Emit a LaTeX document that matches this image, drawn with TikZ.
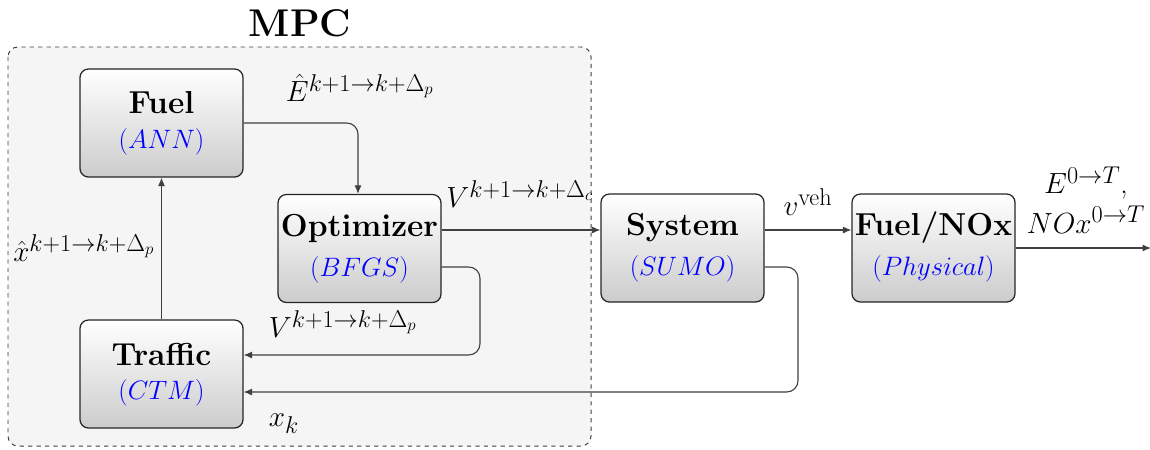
\documentclass[tikz,border=0pt]{standalone}
\usepackage{graphicx}
\usetikzlibrary{arrows.meta,calc}
\DeclareMathSizes{20.74}{20.74}{17.28}{12}
\newcommand{\subt}[1]{\scalebox{1.095}{\fontsize{17.28}{21}\selectfont$#1$}}
\begin{document}
\begin{tikzpicture}[x=0.025cm,y=-0.025cm,
  blk/.style={draw=black!85,line width=0.9pt,rounded corners=6pt,top color=white,bottom color=black!20,
    minimum width=163*0.025cm,minimum height=108*0.025cm,inner sep=0pt,align=center},
  conn/.style={draw=black!75,line width=0.8pt,rounded corners=8pt,-{Latex[length=6pt,width=5pt]}},
  ttl/.style={font=\fontsize{22.6}{26}\selectfont\bfseries},
  sub/.style={text=blue},
  lbl/.style={font=\fontsize{20.74}{25}\selectfont,inner sep=1pt}]
\useasboundingbox (0,0) rectangle (1150,449);
% MPC region
\draw[dashed,draw=black!75,line width=0.7pt,fill=black!4,rounded corners=7pt] (8,47) rectangle (591,446);
\node[font=\fontsize{27.5}{32}\selectfont\bfseries] (mpc) at (300,23) {MPC};
% blocks
\node[blk] (fuel) at (161.5,123) {};
\node[ttl] at ($(fuel)+(0,-20)$) {Fuel};
\node[sub] at ($(fuel)+(0,19)$) {\subt{(ANN)}};
\node[blk] (opt) at (359.5,248.5) {};
\node[ttl] at ($(opt)+(0,-20)$) {Optimizer};
\node[sub] at ($(opt)+(0,21)$) {\subt{(BFGS)}};
\node[blk] (traf) at (161.5,374) {};
\node[ttl] at ($(traf)+(0,-20)$) {Traffic};
\node[sub] at ($(traf)+(0,19)$) {\subt{(CTM)}};
\node[blk] (sys) at (682.5,248) {};
\node[ttl] at ($(sys)+(0,-20)$) {System};
\node[sub] at ($(sys)+(0,21)$) {\subt{(SUMO)}};
\node[blk] (phy) at (933.5,248) {};
\node[ttl] at ($(phy)+(0,-20)$) {Fuel/NOx};
\node[sub] at ($(phy)+(0,21)$) {\subt{(Physical)}};
\coordinate (out) at (1151,248);
% connectors
\draw[conn] (fuel.east |- 0,123) -| (opt.north -| 358,0);
\draw[conn] (traf.north) -- (fuel.south);
\draw[conn] (opt.east |- 0,230) -- (sys.west |- 0,230);
\draw[conn] (opt.east |- 0,267) -| (480,310) |- (traf.east |- 0,355);
\draw[conn] (sys.east |- 0,267) -| (798,330) |- (traf.east |- 0,392);
\draw[conn] (sys.east |- 0,230) -- (phy.west |- 0,230);
\draw[conn] (phy.east) -- (out);
% labels
\node[lbl] (lE) at (360,88) {$\hat{E}^{k+1\rightarrow k+\Delta_p}$};
\node[lbl] (lx) at (84,248) {$\hat{x}^{k+1\rightarrow k+\Delta_p}$};
\node[lbl] (lVc) at (520,194) {$V^{k+1\rightarrow k+\Delta_c}$};
\node[lbl] (lVp) at (343,324) {$V^{k+1\rightarrow k+\Delta_p}$};
\node[lbl] (lxk) at (284,424) {$x_k$};
\node[lbl] (lv) at (808,202) {$v^{\mathrm{veh}}$};
\node[lbl,align=center] (lout) at (1086,200) {$E^{0\rightarrow T}$,\\[3pt]$NOx^{0\rightarrow T}$};
\end{tikzpicture}
\end{document}
